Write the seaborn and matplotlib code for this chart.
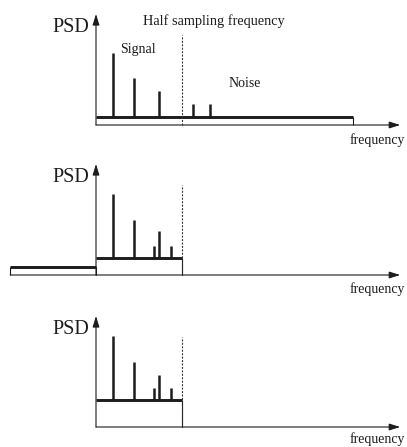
import matplotlib
matplotlib.use("Agg")
import matplotlib.pyplot as plt
import seaborn as sns
import pandas as pd

# ---------------- data (normalised frequency: half sampling frequency = 1) ----
half_fs = 1.0
axis_end = 3.55            # end of the frequency axis arrow
psd_axis_top = 111         # top of the PSD axis arrow
nyquist_line_top = 90

# panel 1: original spectrum
signal_freqs = [0.198, 0.445, 0.738]
signal_amps = [64, 38.5, 26]
noise_freqs = [1.128, 1.329]
noise_amps = [12.7, 12.7]
noise_floor_1 = 8.3
noise_band_end = 3.0

# panel 2: after sampling (aliased noise folded into band)
alias_freqs = [0.198, 0.445, 0.671, 0.738, 0.872]
alias_amps = [64, 38.3, 12.6, 27, 12.6]
alias_floor = 16.7
left_floor = 8.3
left_band_start = -1.0

# panel 3: filtered
filt_freqs = [0.198, 0.445, 0.671, 0.738, 0.872]
filt_amps = [64, 37.7, 12.3, 25, 12.3]
filt_floor = 27

labels_title = "Half sampling frequency"
label_psd = "PSD"
label_freq = "frequency"
label_signal = "Signal"
label_noise = "Noise"

# ---------------- style ----------------
sns.set_theme(style="white")
plt.rcParams["font.family"] = ["Liberation Serif", "DejaVu Serif"]

W, H = 407, 447
fig = plt.figure(figsize=(W / 100, H / 100), dpi=100)
fig.patch.set_facecolor("white")

x0_px, unit_px = 96, 85.7
baselines = [125, 275, 427]
freq_label_y = [-19, -18, -15.5]

INK = "#1c1c1c"
THIN = 0.8
THICK = 2.1
SPIKE = 1.8


def make_ax(b):
    top_px, bot_px = b - 130, b + 20
    ax = fig.add_axes([0, (H - bot_px) / H, 1, (bot_px - top_px) / H])
    ax.set_xlim(-x0_px / unit_px, (W - x0_px) / unit_px)
    ax.set_ylim(-20, 130)
    ax.set_axis_off()
    ax.patch.set_alpha(0)
    return ax


def arrow(ax, xy_from, xy_to):
    ax.annotate("", xy=xy_to, xytext=xy_from,
                arrowprops=dict(arrowstyle="-|>,head_length=0.55,head_width=0.17",
                                mutation_scale=12, lw=THIN, color=INK,
                                shrinkA=0, shrinkB=0),
                annotation_clip=False)


def floor_box(ax, xa, xb, h, left_side=False):
    df = pd.DataFrame({"f": [xa, xb], "psd": [h, h]})
    sns.lineplot(data=df, x="f", y="psd", ax=ax, color=INK, linewidth=THICK,
                 legend=False, solid_capstyle="butt")
    ax.vlines([xb], 0, h, color=INK, lw=THIN)
    if left_side:
        ax.vlines([xa], 0, h, color=INK, lw=THIN)


def spikes(ax, freqs, amps, floor):
    tops = [floor + a for a in amps]
    ax.vlines(freqs, floor, tops, color=INK, lw=SPIKE)


def common(ax, x_start, fy):
    arrow(ax, (x_start, 0), (axis_end, 0))
    arrow(ax, (0, 0), (0, psd_axis_top))
    ax.vlines([half_fs], 0, nyquist_line_top, color="#333333", lw=0.8,
              linestyles=(0, (1.8, 1.3)))
    ax.text(-0.08, 93.5, label_psd, ha="right", va="baseline", fontsize=14.5,
            color=INK)
    ax.text(3.605, fy, label_freq, ha="right", va="baseline", fontsize=10,
            color=INK)


# panel 1
ax1 = make_ax(baselines[0])
floor_box(ax1, 0, noise_band_end, noise_floor_1)
spikes(ax1, signal_freqs, signal_amps, noise_floor_1)
spikes(ax1, noise_freqs, noise_amps, noise_floor_1)
common(ax1, 0, freq_label_y[0])
ax1.text(1.377, 100, labels_title, ha="center", va="baseline", fontsize=10.3,
         color=INK)
ax1.text(0.49, 71.5, label_signal, ha="center", va="baseline", fontsize=10,
         color=INK)
ax1.text(1.739, 37.7, label_noise, ha="center", va="baseline", fontsize=10,
         color=INK)

# panel 2
ax2 = make_ax(baselines[1])
floor_box(ax2, left_band_start, 0, left_floor, left_side=True)
floor_box(ax2, 0, half_fs, alias_floor)
spikes(ax2, alias_freqs, alias_amps, alias_floor)
common(ax2, left_band_start, freq_label_y[1])

# panel 3
ax3 = make_ax(baselines[2])
floor_box(ax3, 0, half_fs, filt_floor)
spikes(ax3, filt_freqs, filt_amps, filt_floor)
common(ax3, 0, freq_label_y[2])

fig.savefig("out.png", dpi=100, facecolor="white")
